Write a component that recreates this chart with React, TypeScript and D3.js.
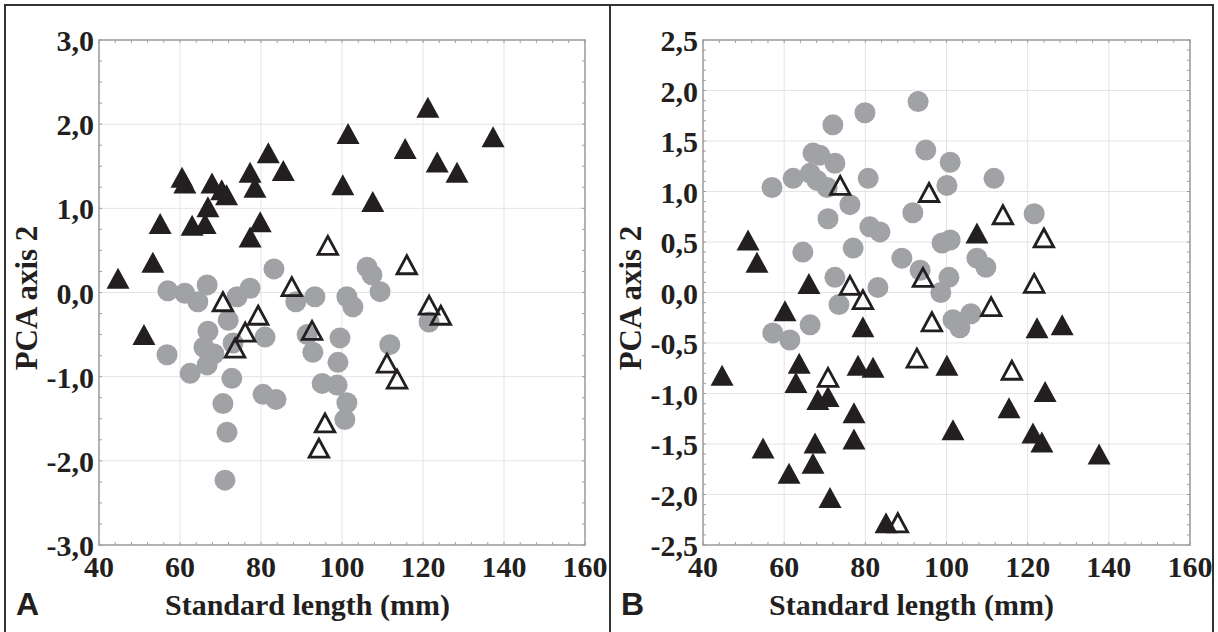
import * as d3 from "d3";

// x axis (mm) is the same for both panels
const xTicks = [40, 60, 80, 100, 120, 140, 160];
const aYTicks = [-3, -2, -1, 0, 1, 2, 3];
const bYTicks = [-2.5, -2, -1.5, -1, -0.5, 0, 0.5, 1, 1.5, 2, 2.5];

// panel A: [standard length, PCA axis 2]
const aCircles = [
  [57.0, 0.02], [61.2, -0.01], [64.4, -0.11], [66.7, 0.09], [74.1, -0.05], [77.3, 0.05],
  [83.2, 0.28], [88.6, -0.11], [71.9, -0.33], [66.9, -0.46], [65.9, -0.65], [68.4, -0.73],
  [73.1, -0.6], [56.8, -0.74], [62.5, -0.96], [66.7, -0.86], [72.8, -1.02], [81.0, -0.53],
  [70.6, -1.32], [71.6, -1.66], [71.1, -2.23], [80.5, -1.21], [83.7, -1.27], [93.3, -0.05],
  [101.2, -0.05], [102.7, -0.17], [106.2, 0.3], [107.4, 0.21], [109.4, 0.01], [91.4, -0.5],
  [92.8, -0.71], [99.5, -0.54], [99.0, -0.83], [95.1, -1.08], [98.8, -1.1], [101.2, -1.31],
  [100.7, -1.51], [111.8, -0.62], [121.5, -0.35],
];
const aFilled = [
  [44.7, 0.17], [53.3, 0.36], [55.1, 0.82], [51.1, -0.5], [60.5, 1.37], [61.2, 1.3],
  [63.0, 0.8], [66.2, 0.82], [66.9, 1.02], [67.9, 1.3], [70.3, 1.22], [71.5, 1.16],
  [77.3, 1.43], [78.5, 1.25], [77.3, 0.66], [79.8, 0.84], [81.8, 1.66], [85.5, 1.45],
  [101.5, 1.89], [100.2, 1.28], [107.6, 1.08], [115.6, 1.71], [121.2, 2.2], [123.5, 1.55],
  [128.4, 1.43], [137.3, 1.85],
];
const aOpen = [
  [70.6, -0.11], [87.6, 0.07], [79.3, -0.27], [76.1, -0.47], [73.6, -0.66], [96.5, 0.56],
  [116.0, 0.33], [121.5, -0.15], [124.4, -0.27], [92.6, -0.45], [111.1, -0.84], [113.6, -1.03],
  [95.8, -1.55], [94.3, -1.85],
];

// panel B
const bCircles = [
  [57.0, 1.04], [62.2, 1.13], [67.1, 1.38], [68.8, 1.36], [66.4, 1.18], [68.1, 1.11],
  [70.6, 1.04], [72.5, 1.28], [72.0, 1.66], [79.9, 1.78], [80.7, 1.13], [76.2, 0.87],
  [70.8, 0.73], [81.1, 0.65], [83.6, 0.6], [64.6, 0.4], [77.0, 0.44], [93.0, 1.89],
  [94.9, 1.41], [100.9, 1.29], [100.1, 1.06], [91.7, 0.79], [98.9, 0.49], [100.9, 0.52],
  [89.0, 0.34], [72.5, 0.15], [83.1, 0.05], [73.5, -0.12], [57.2, -0.4], [61.4, -0.47],
  [66.4, -0.32], [93.5, 0.22], [100.6, 0.15], [98.6, 0.0], [101.6, -0.27], [106.0, -0.21],
  [103.3, -0.35], [107.5, 0.34], [109.7, 0.25], [111.7, 1.13], [121.6, 0.78],
];
const bFilled = [
  [51.1, 0.52], [53.3, 0.3], [66.1, 0.09], [60.2, -0.18], [107.5, 0.59], [79.4, -0.34],
  [44.7, -0.82], [63.7, -0.7], [62.9, -0.89], [68.3, -1.06], [70.8, -1.03], [78.2, -0.72],
  [81.9, -0.74], [77.2, -1.19], [77.2, -1.45], [54.8, -1.54], [67.6, -1.49], [67.1, -1.69],
  [61.2, -1.79], [71.3, -2.03], [85.1, -2.28], [122.3, -0.35], [128.5, -0.32], [100.1, -0.72],
  [124.3, -0.98], [115.4, -1.14], [101.6, -1.36], [121.3, -1.39], [123.5, -1.48], [137.6, -1.6],
];
const bOpen = [
  [73.8, 1.06], [76.2, 0.07], [79.4, -0.07], [95.7, 0.99], [113.9, 0.77], [124.0, 0.54],
  [94.2, 0.15], [121.6, 0.09], [111.0, -0.14], [96.4, -0.29], [70.8, -0.84], [88.0, -2.28],
  [92.7, -0.65], [116.1, -0.77],
];

const W = 1218;
const H = 632;
const serif = "'Liberation Serif', 'Times New Roman', serif";
const sans = "'Liberation Sans', Arial, sans-serif";
const ink = "#231f20";

const fmt = (v: number) => d3.format(".1f")(v).replace(".", ",").replace("\u2212", "-");

// triangle centred on its bounding box
const tri = (cx: number, cy: number, w: number, h: number) =>
  `M${cx},${cy - h / 2}L${cx + w / 2},${cy + h / 2}L${cx - w / 2},${cy + h / 2}Z`;

function Panel({ x0, x1, left, right, yTicks, yMinor, letter, circles, filled, open }) {
  const top = 40;
  const bottom = 545;
  const x = d3.scaleLinear().domain([40, 160]).range([left, right]);
  const y = d3.scaleLinear().domain([yTicks[0], yTicks[yTicks.length - 1]]).range([bottom, top]);
  const xMinor = d3.range(40, 160.01, 4);
  const yMin = d3.range(yTicks[0], yTicks[yTicks.length - 1] + 1e-6, yMinor);
  const tl = 3;

  return (
    <g>
      {/* grid */}
      {xTicks.slice(1, -1).map((t) => (
        <line key={"gx" + t} x1={x(t)} x2={x(t)} y1={top} y2={bottom} stroke="#e4e4e4" />
      ))}
      {yTicks.slice(1, -1).map((t) => (
        <line key={"gy" + t} x1={left} x2={right} y1={y(t)} y2={y(t)} stroke="#e4e4e4" />
      ))}
      {/* minor ticks, drawn inward */}
      {xMinor.map((t) => (
        <g key={"mx" + t} stroke="#888" strokeWidth={0.8}>
          <line x1={x(t)} x2={x(t)} y1={top} y2={top + tl} />
          <line x1={x(t)} x2={x(t)} y1={bottom} y2={bottom - tl} />
        </g>
      ))}
      {yMin.map((t) => (
        <g key={"my" + t} stroke="#888" strokeWidth={0.8}>
          <line x1={left} x2={left + tl} y1={y(t)} y2={y(t)} />
          <line x1={right} x2={right - tl} y1={y(t)} y2={y(t)} />
        </g>
      ))}
      <rect x={left} y={top} width={right - left} height={bottom - top} fill="none" stroke="#9a9a9a" strokeWidth={1.5} />

      {/* marks */}
      {circles.map((d, i) => (
        <circle key={"c" + i} cx={x(d[0])} cy={y(d[1])} r={10.5} fill="#a1a2a6" />
      ))}
      {filled.map((d, i) => (
        <path key={"f" + i} d={tri(x(d[0]), y(d[1]), 23, 21)} fill={ink} />
      ))}
      {open.map((d, i) => (
        <path key={"o" + i} d={tri(x(d[0]), y(d[1]), 19.5, 18)} fill="none" stroke={ink} strokeWidth={2.8} strokeLinejoin="miter" />
      ))}

      {/* tick labels */}
      {xTicks.map((t) => (
        <text key={"tx" + t} x={x(t)} y={577} textAnchor="middle" fontFamily={serif} fontWeight="bold" fontSize={30} fill={ink}>
          {t}
        </text>
      ))}
      {yTicks.map((t) => (
        <text key={"ty" + t} x={left - 5} y={y(t) + 11} textAnchor="end" fontFamily={serif} fontWeight="bold" fontSize={30} fill={ink}>
          {fmt(t)}
        </text>
      ))}

      {/* titles */}
      <text x={(x0 + x1) / 2} y={615} textAnchor="middle" fontFamily={serif} fontWeight="bold" fontSize={30} fill={ink}>
        Standard length (mm)
      </text>
      <text transform={`translate(${left - 62},298) rotate(-90)`} textAnchor="middle" fontFamily={serif} fontWeight="bold" fontSize={31} fill={ink}>
        PCA axis 2
      </text>
      <text x={x0 + 11} y={615} fontFamily={sans} fontWeight="bold" fontSize={32} fill={ink}>
        {letter}
      </text>
    </g>
  );
}

export default function App() {
  return (
    <svg width={W} height={H} style={{ position: "absolute", left: 0, top: 0, background: "#fff" }}>
      <rect x={0} y={0} width={W} height={H} fill="#fff" />
      <Panel x0={5} x1={610} left={99} right={585} yTicks={aYTicks} yMinor={0.25} letter="A"
        circles={aCircles} filled={aFilled} open={aOpen} />
      <Panel x0={610} x1={1213} left={703} right={1190} yTicks={bYTicks} yMinor={0.1} letter="B"
        circles={bCircles} filled={bFilled} open={bOpen} />
      {/* panel frames */}
      <rect x={5} y={5} width={1208} height={H + 10} fill="none" stroke="#333" strokeWidth={2} />
      <line x1={610} x2={610} y1={5} y2={H + 10} stroke="#333" strokeWidth={2} />
    </svg>
  );
}
